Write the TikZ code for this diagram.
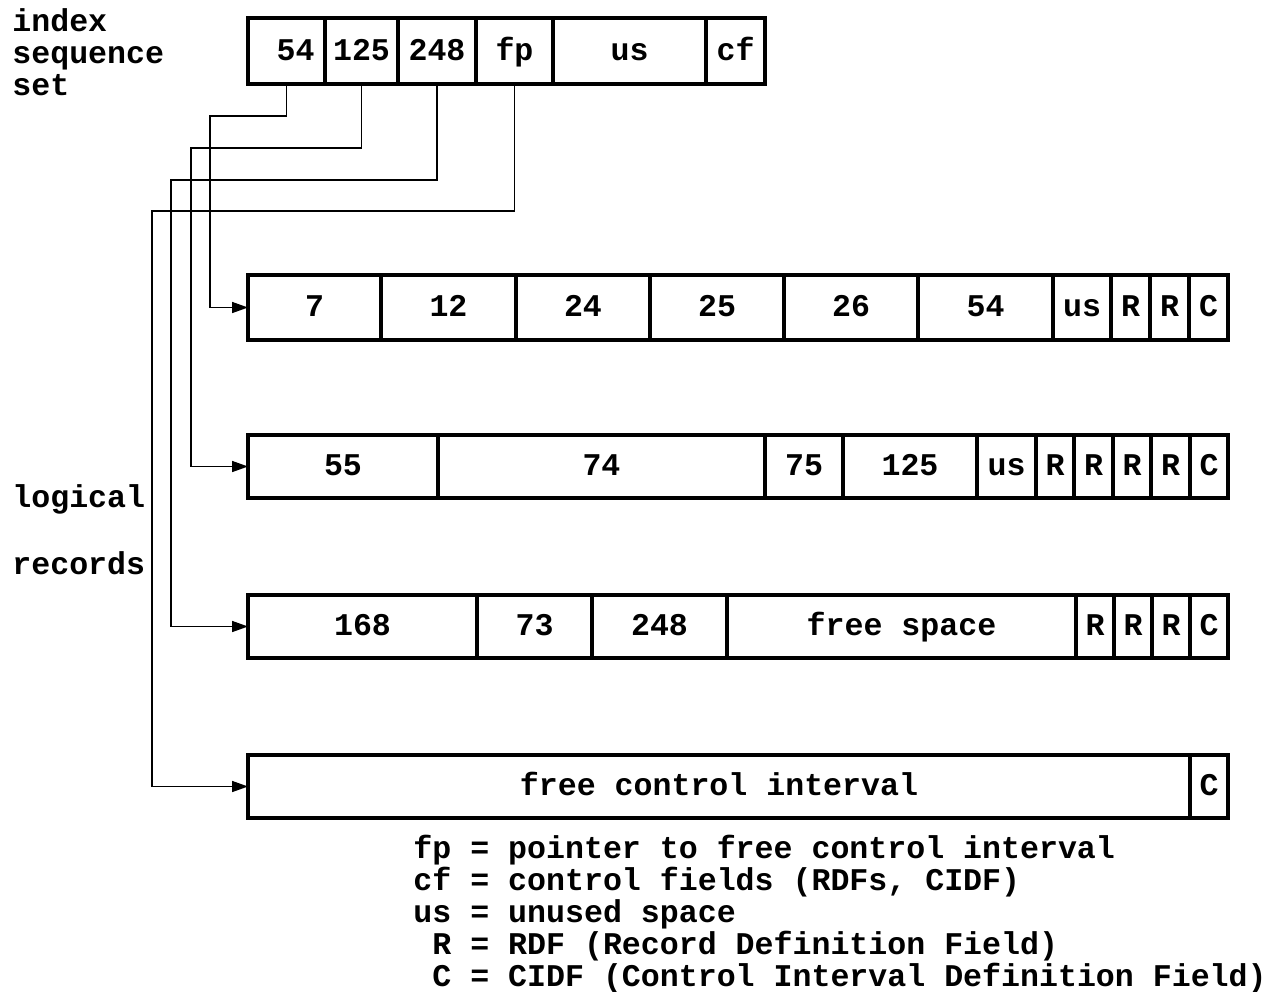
\documentclass[tikz,border=0pt]{standalone}
\usepackage{fontspec}
\setmainfont{Liberation Mono}
\usetikzlibrary{arrows.meta,positioning}

\begin{document}
\begin{tikzpicture}[
  x=0.5pt,y=-0.5pt,
  font=\bfseries\fontsize{15.8}{16}\selectfont,
  node distance=0pt and 0pt,
  cell/.style={draw,line width=1.6pt,inner sep=0pt,outer sep=0pt,text height=9pt,text depth=0pt,
    minimum height=31.5pt,minimum width=#1},
  lbl/.style={align=left,inner sep=0pt,anchor=north west},
  ptr/.style={-{Triangle[length=8pt,width=5.5pt]},line width=0.8pt}
]
\useasboundingbox (0,0) rectangle (1282,992);

% index sequence set
\node[cell=38.5pt,minimum height=33pt,text width=28pt,align=right,anchor=west] (k54) at (248,51) {54};
\node[cell=36.5pt,minimum height=33pt,right=of k54] (k125) {125};
\node[cell=39pt,minimum height=33pt,right=of k125] (k248) {248};
\node[cell=38.5pt,minimum height=33pt,right=of k248] (kfp) {fp};
\node[cell=76.5pt,minimum height=33pt,right=of kfp] (kus) {us};
\node[cell=29.5pt,minimum height=33pt,right=of kus] (kcf) {cf};

% control interval 1
\node[cell=66.5pt,minimum height=32.5pt,anchor=west] (r1a) at (248,307.5) {7};
\node[cell=67.5pt,minimum height=32.5pt,right=of r1a] (r1b) {12};
\node[cell=67pt,minimum height=32.5pt,right=of r1b] (r1c) {24};
\node[cell=67pt,minimum height=32.5pt,right=of r1c] (r1d) {25};
\node[cell=67pt,minimum height=32.5pt,right=of r1d] (r1e) {26};
\node[cell=67.5pt,minimum height=32.5pt,right=of r1e] (r1f) {54};
\node[cell=29pt,minimum height=32.5pt,right=of r1f] (r1us) {us};
\node[cell=19.5pt,minimum height=32.5pt,right=of r1us] (r1r1) {R};
\node[cell=19.5pt,minimum height=32.5pt,right=of r1r1] (r1r2) {R};
\node[cell=19.5pt,minimum height=32.5pt,right=of r1r2] (r1c1) {C};

% control interval 2
\node[cell=95pt,anchor=west] (r2a) at (248,466.5) {55};
\node[cell=163.5pt,right=of r2a] (r2b) {74};
\node[cell=39pt,right=of r2b] (r2c) {75};
\node[cell=67pt,right=of r2c] (r2d) {125};
\node[cell=29.5pt,right=of r2d] (r2us) {us};
\node[cell=19pt,right=of r2us] (r2r1) {R};
\node[cell=19.5pt,right=of r2r1] (r2r2) {R};
\node[cell=19pt,right=of r2r2] (r2r3) {R};
\node[cell=19.5pt,right=of r2r3] (r2r4) {R};
\node[cell=19pt,right=of r2r4] (r2c1) {C};

% control interval 3
\node[cell=114.5pt,anchor=west] (r3a) at (248,626.5) {168};
\node[cell=57.5pt,right=of r3a] (r3b) {73};
\node[cell=67.5pt,right=of r3b] (r3c) {248};
\node[cell=174.5pt,right=of r3c] (r3fs) {free space};
\node[cell=19pt,right=of r3fs] (r3r1) {R};
\node[cell=19pt,right=of r3r1] (r3r2) {R};
\node[cell=19pt,right=of r3r2] (r3r3) {R};
\node[cell=19pt,right=of r3r3] (r3c1) {C};

% free control interval
\node[cell=471pt,anchor=west] (r4a) at (248,786.5) {free control interval};
\node[cell=19pt,right=of r4a] (r4c1) {C};

% pointers
\draw[ptr] (k54.south) |- (210,116) |- (r1a.west);
\draw[ptr] (k125.south) |- (191,148) |- (r2a.west);
\draw[ptr] (k248.south) |- (171,180) |- (r3a.west);
\draw[ptr] (kfp.south) |- (152,211) |- (r4a.west);

% labels
\node[lbl] (iss) at (12,8) {index\\sequence\\set};
\node[lbl,anchor=west] (logical) at (12,499) {logical};
\node[lbl,anchor=west] (records) at (12,563) {records};
\node[lbl] (legend) at (413,835) {fp = pointer to free control interval\\
cf = control fields (RDFs, CIDF)\\
us = unused space\\
\hphantom{R}R = RDF (Record Definition Field)\\
\hphantom{C}C = CIDF (Control Interval Definition Field)};
\end{tikzpicture}
\end{document}
